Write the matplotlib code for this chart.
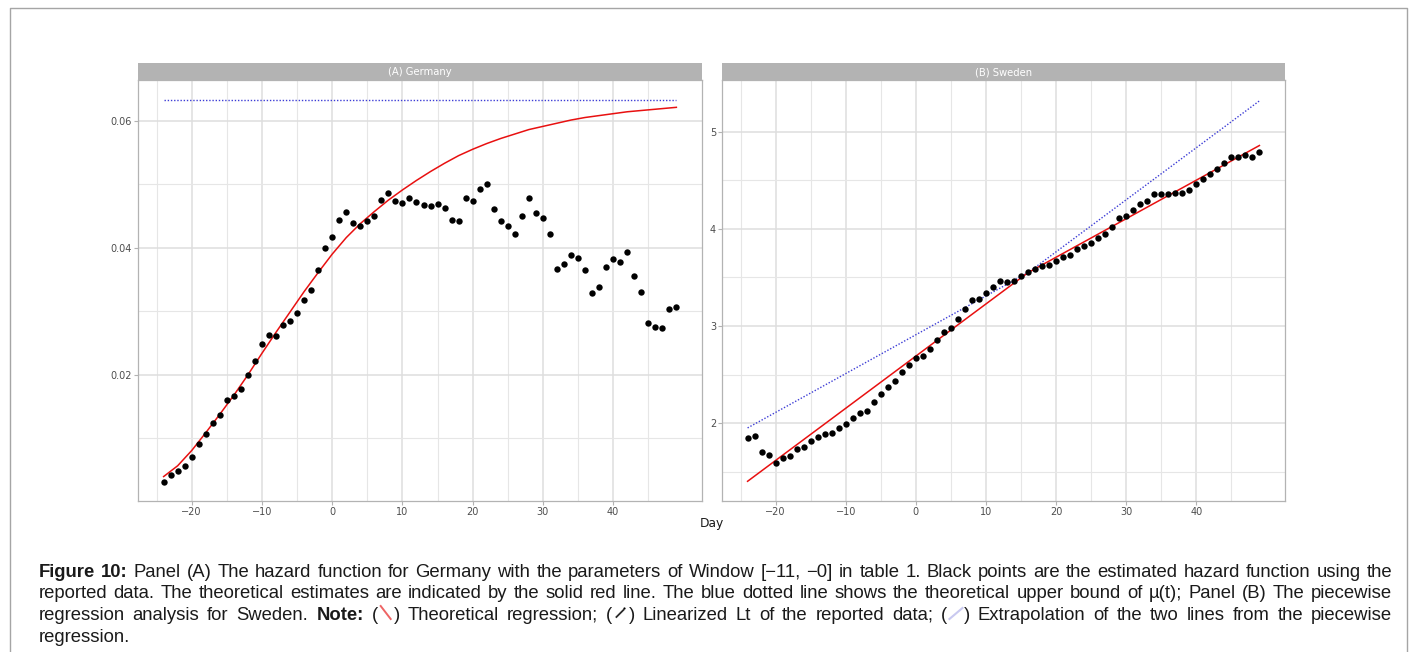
import matplotlib
matplotlib.use("Agg")
import matplotlib.pyplot as plt
from matplotlib.lines import Line2D

W, H = 1414, 652

# day axis shared by both panels
days = list(range(-24, 50))

# (A) Germany: estimated hazard (black points)
germany_hazard = [
    0.0032, 0.0043, 0.0049, 0.0056, 0.0071, 0.0092, 0.0107, 0.0124, 0.0137, 0.0160,
    0.0167, 0.0177, 0.0200, 0.0222, 0.0249, 0.0263, 0.0261, 0.0278, 0.0285, 0.0297,
    0.0318, 0.0333, 0.0365, 0.0399, 0.0417, 0.0443, 0.0457, 0.0439, 0.0435, 0.0442,
    0.0450, 0.0475, 0.0486, 0.0474, 0.0471, 0.0479, 0.0472, 0.0468, 0.0466, 0.0469,
    0.0462, 0.0444, 0.0442, 0.0478, 0.0474, 0.0492, 0.0501, 0.0461, 0.0442, 0.0434,
    0.0422, 0.0450, 0.0479, 0.0455, 0.0447, 0.0422, 0.0366, 0.0374, 0.0389, 0.0384,
    0.0365, 0.0329, 0.0338, 0.0369, 0.0382, 0.0377, 0.0394, 0.0356, 0.0331, 0.0282,
    0.0275, 0.0274, 0.0304, 0.0307,
]

# (A) theoretical hazard (red line), read every 2 days
germany_theory_days = [-24, -22, -20, -18, -16, -14, -12, -10, -8, -6, -4, -2, 0, 2, 4, 6,
                       8, 10, 12, 14, 16, 18, 20, 22, 24, 26, 28, 30, 32, 34, 36, 38,
                       40, 42, 44, 46, 48, 49]
germany_theory = [0.0040, 0.0057, 0.0081, 0.0109, 0.0138, 0.0168, 0.0200, 0.0234, 0.0267,
                  0.0299, 0.0331, 0.0361, 0.0390, 0.0416, 0.0438, 0.0457, 0.0475, 0.0491,
                  0.0506, 0.0520, 0.0533, 0.0545, 0.0555, 0.0564, 0.0572, 0.0579, 0.0586,
                  0.0591, 0.0596, 0.0601, 0.0605, 0.0608, 0.0611, 0.0614, 0.0616, 0.0618,
                  0.0620, 0.0621]

# (A) upper bound of mu(t) (blue dotted)
germany_bound_days = [-24, 49]
germany_bound = [0.0633, 0.0633]

# (B) Sweden: linearized Lt (black points)
sweden_lt = [
    1.849, 1.866, 1.698, 1.674, 1.588, 1.639, 1.656, 1.732, 1.756, 1.814,
    1.856, 1.887, 1.893, 1.945, 1.993, 2.055, 2.107, 2.120, 2.216, 2.299,
    2.368, 2.433, 2.526, 2.598, 2.667, 2.694, 2.763, 2.856, 2.942, 2.983,
    3.076, 3.179, 3.265, 3.282, 3.340, 3.402, 3.460, 3.450, 3.467, 3.512,
    3.560, 3.591, 3.615, 3.625, 3.670, 3.711, 3.735, 3.794, 3.828, 3.852,
    3.904, 3.948, 4.017, 4.113, 4.131, 4.196, 4.261, 4.289, 4.357, 4.361,
    4.357, 4.375, 4.368, 4.405, 4.467, 4.519, 4.570, 4.622, 4.680, 4.746,
    4.746, 4.766, 4.746, 4.794,
]

# (B) piecewise regression (red) and extrapolated lines (blue dotted)
sweden_fit_days = [-24, 16, 49]
sweden_fit = [1.40, 3.55, 4.86]
sweden_extrap = [1.95, 3.55, 5.32]

x_major = [-20, -10, 0, 10, 20, 30, 40]
x_minor = [-25, -15, -5, 5, 15, 25, 35, 45]

fig = plt.figure(figsize=(W / 100, H / 100), dpi=100)
fig.patch.set_facecolor("white")


def fx(px):
    return px / W


def fy(py):
    return 1 - py / H


def panel(left, right, title):
    top, bottom = 80, 500.7
    ax = fig.add_axes([fx(left), fy(bottom), fx(right - left), (bottom - top) / H])
    ax.set_xlim(-27.65, 52.65)
    ax.set_xticks(x_major)
    ax.set_xticks(x_minor, minor=True)
    ax.grid(which="major", color="#DEDEDE", lw=1.1)
    ax.grid(which="minor", color="#E6E6E6", lw=0.8)
    ax.set_axisbelow(True)
    ax.tick_params(which="minor", length=0)
    ax.tick_params(which="major", length=2.8, width=0.8, color="#B3B3B3",
                   labelsize=7, labelcolor="#4D4D4D", pad=1.5)
    for s in ax.spines.values():
        s.set_color("#B3B3B3")
        s.set_linewidth(0.9)
    st = fig.add_axes([fx(left), fy(top), fx(right - left), 17.5 / H])
    st.set_facecolor("#B3B3B3")
    st.set_xticks([])
    st.set_yticks([])
    for s in st.spines.values():
        s.set_visible(False)
    st.text(0.5, 0.45, title, color="white", fontsize=7.2, ha="center", va="center",
            transform=st.transAxes)
    return ax


# panel A
axA = panel(138, 702, "(A) Germany")
axA.plot(germany_bound_days, germany_bound, color="#3d3dd6", lw=1.0, dashes=(1, 1.3))
axA.plot(germany_theory_days, germany_theory, color="#E81010", lw=1.1)
axA.plot(days, germany_hazard, "o", color="black", ms=4.6, mew=0)
axA.set_ylim(0.0002, 0.0664)
axA.set_yticks([0.02, 0.04, 0.06])
axA.set_yticklabels(["0.02", "0.04", "0.06"])
axA.set_yticks([0.01, 0.03, 0.05], minor=True)

# panel B
axB = panel(722, 1285, "(B) Sweden")
axB.plot(sweden_fit_days, sweden_extrap, color="#3d3dd6", lw=1.0, dashes=(1, 1.3))
axB.plot(sweden_fit_days, sweden_fit, color="#E81010", lw=1.1)
axB.plot(days, sweden_lt, "o", color="black", ms=4.6, mew=0)
axB.set_ylim(1.20, 5.535)
axB.set_yticks([2, 3, 4, 5])
axB.set_yticks([1.5, 2.5, 3.5, 4.5], minor=True)

fig.text(fx(712), fy(523), "Day", fontsize=8.8, color="#1a1a1a", ha="center", va="center")

# outer frame
frame = Line2D([fx(10), fx(10), fx(1407), fx(1407)], [fy(H + 5), fy(8), fy(8), fy(H + 5)],
               transform=fig.transFigure, color="#A5A5A5", lw=1.0)
fig.add_artist(frame)

# caption, justified word by word
cap_font = "Liberation Sans"
cap_size = 13.3
cap_left, cap_right = 38.5, 1392
baselines = [577, 598.5, 620, 641.5]
icon_w = 16

caption = [
    [("Figure 10:", True),
     (" Panel (A) The hazard function for Germany with the parameters of Window [\u221211, \u22120] "
      "in table 1. Black points are the estimated hazard function using the", False)],
    [("reported data. The theoretical estimates are indicated by the solid red line. The blue "
      "dotted line shows the theoretical upper bound of \u00b5(t); Panel (B) The piecewise", False)],
    [("regression analysis for Sweden. ", False), ("Note:", True), (" (", False), "red",
     (") Theoretical regression; (", False), "dots",
     (") Linearized Lt of the reported data; (", False), "blue",
     (") Extrapolation of the two lines from the piecewise", False)],
    [("regression.", False)],
]

renderer = fig.canvas.get_renderer()


def text_w(s, bold):
    t = fig.text(0, 0, s, fontsize=cap_size, family=cap_font,
                 weight="bold" if bold else "normal")
    w = t.get_window_extent(renderer).width
    t.remove()
    return w


def split_words(segments):
    words = []
    new_word = True
    for seg in segments:
        if isinstance(seg, str):
            if new_word:
                words.append([])
            words[-1].append(seg)
            new_word = False
            continue
        text, bold = seg
        for i, p in enumerate(text.split(" ")):
            if i > 0:
                new_word = True
            if p == "":
                continue
            if new_word:
                words.append([])
            words[-1].append((p, bold))
            new_word = False
    return words


def draw_icon(kind, x, yb):
    if kind == "red":
        fig.add_artist(Line2D([fx(x + 3), fx(x + 13)], [fy(yb - 14), fy(yb - 1)],
                              transform=fig.transFigure, color="#EE6464", lw=1.4))
    elif kind == "dots":
        fig.add_artist(Line2D([fx(x + 4), fx(x + 11)], [fy(yb - 3), fy(yb - 10)],
                              transform=fig.transFigure, color="#2a2a2a", lw=1.3))
        fig.add_artist(Line2D([fx(x + 12)], [fy(yb - 12)], transform=fig.transFigure,
                              marker="o", ms=1.6, color="black", mew=0))
    else:
        fig.add_artist(Line2D([fx(x + 2), fx(x + 15)], [fy(yb - 1), fy(yb - 12)],
                              transform=fig.transFigure, color="#C9C9F0", lw=1.5))


space_w = text_w("a a", False) - 2 * text_w("a", False)

for li, segments in enumerate(caption):
    words = split_words(segments)
    widths = []
    for wd in words:
        widths.append(sum(icon_w if isinstance(p, str) else text_w(p[0], p[1]) for p in wd))
    if li < len(caption) - 1 and len(words) > 1:
        gap = (cap_right - cap_left - sum(widths)) / (len(words) - 1)
    else:
        gap = space_w
    x = cap_left
    yb = baselines[li]
    for wd, w in zip(words, widths):
        xp = x
        for p in wd:
            if isinstance(p, str):
                draw_icon(p, xp, yb)
                xp += icon_w
            else:
                fig.text(fx(xp), fy(yb), p[0], fontsize=cap_size, family=cap_font,
                         weight="bold" if p[1] else "normal", color="#1a1a1a",
                         ha="left", va="baseline")
                xp += text_w(p[0], p[1])
        x += w + gap

fig.savefig("out.png", dpi=100, facecolor="white")
